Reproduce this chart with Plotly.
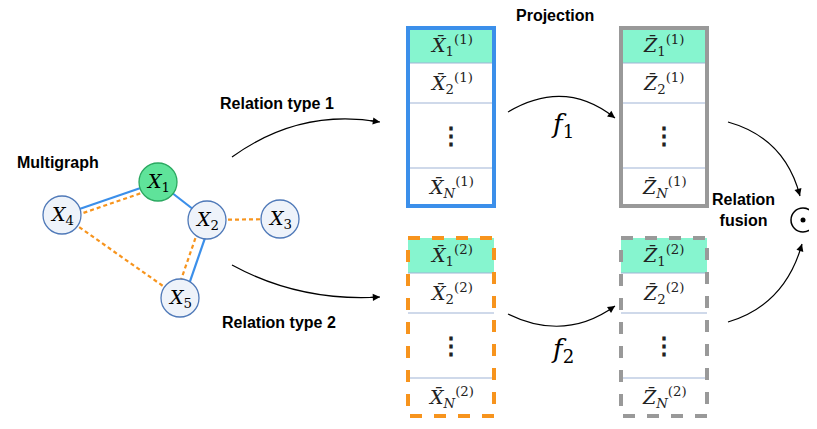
import plotly.graph_objects as go

W, H = 817, 429
PAD = 8  # the page body has an 8px margin

# graph nodes
node_names = ["1", "2", "3", "4", "5"]
node_x = [158, 207, 280, 62, 180]
node_y = [182, 220, 219, 215, 298]
solid_edges = [("4", "1", 0), ("1", "2", 0), ("2", "5", -4)]
dashed_edges = [("4", "1", 5), ("4", "5", 0), ("2", "5", 5), ("2", "3", 0)]

# embedding tables
table_x = [408, 621, 408, 621]
table_top = [28, 28, 238, 238]
table_letters = ["X", "Z", "X", "Z"]
table_types = ["1", "1", "2", "2"]
table_border = ["#3b8fea", "#999999", "#f7941d", "#999999"]
table_dash = ["solid", "solid", "dash", "dash"]
row_heights = [35, 40, 65, 38]
row_subs = ["1", "2", None, "N"]

fig = go.Figure()
shapes, annos = [], []
pos = dict(zip(node_names, zip(node_x, node_y)))


def edge(a, b, off, color, dash):
    (x0, y0), (x1, y1) = pos[a], pos[b]
    dx, dy = x1 - x0, y1 - y0
    n = (dx * dx + dy * dy) ** 0.5
    px, py = -dy / n * off, dx / n * off
    shapes.append(dict(type="line", x0=x0 + px, y0=y0 + py, x1=x1 + px, y1=y1 + py,
                       line=dict(color=color, width=2.2, dash=dash), layer="below"))


for a, b, o in solid_edges:
    edge(a, b, o, "#3b8fea", "solid")
for a, b, o in dashed_edges:
    edge(a, b, o, "#f7941d", "4px,3px")

for nm, x, y in zip(node_names, node_x, node_y):
    green = nm == "1"
    shapes.append(dict(type="circle", x0=x - 19, x1=x + 19, y0=y - 19, y1=y + 19,
                       fillcolor="#5fe39a" if green else "#eef3fa",
                       line=dict(color="#2aa860" if green else "#4f79b8", width=1.3)))
    annos.append(dict(x=x, y=y, text=f"<i>X</i><sub>{nm}</sub>", showarrow=False,
                      font=dict(family="DejaVu Serif", size=19, color="black")))

for tx, tt, let, typ, bc, dsh in zip(table_x, table_top, table_letters, table_types,
                                     table_border, table_dash):
    y = tt
    for i, (h, s) in enumerate(zip(row_heights, row_subs)):
        if i == 0:
            shapes.append(dict(type="rect", x0=tx, x1=tx + 86, y0=y, y1=y + h,
                               fillcolor="#86f5cf", line=dict(width=0)))
        if i > 0:
            shapes.append(dict(type="line", x0=tx, x1=tx + 86, y0=y, y1=y,
                               line=dict(color="#9fb3d6", width=1.2)))
        if s is None:
            txt = "<b>⋮</b>"
            fs = 24
        else:
            sub = f"<i>{s}</i>" if s == "N" else s
            txt = f"<i>{let}\u0304</i><sub>{sub}</sub><sup>({typ})</sup>"
            fs = 19
        annos.append(dict(x=tx + 43, y=y + h / 2, text=txt, showarrow=False,
                          font=dict(family="DejaVu Serif", size=fs, color="#222")))
        y += h
    shapes.append(dict(type="rect", x0=tx, x1=tx + 86, y0=tt, y1=y,
                       line=dict(color=bc, width=4, dash=dsh)))

# curved arrows
curves = [((232, 157), (300, 108), (380, 122)),
          ((232, 265), (300, 302), (380, 297)),
          ((508, 112), (565, 78), (615, 118)),
          ((508, 314), (565, 342), (615, 306)),
          ((728, 122), (785, 138), (800, 196)),
          ((728, 322), (785, 305), (802, 244))]
for (x0, y0), (cx, cy), (x1, y1) in curves:
    shapes.append(dict(type="path", path=f"M{x0},{y0} Q{cx},{cy} {x1},{y1}",
                       line=dict(color="black", width=1.2)))
    t = 0.93
    bx = (1 - t) ** 2 * x0 + 2 * (1 - t) * t * cx + t * t * x1
    by = (1 - t) ** 2 * y0 + 2 * (1 - t) * t * cy + t * t * y1
    annos.append(dict(x=x1, y=y1, ax=bx, ay=by, axref="x", ayref="y", xref="x", yref="y",
                      text="", showarrow=True, arrowhead=2, arrowsize=1.2,
                      arrowwidth=1.2, arrowcolor="black"))

shapes.append(dict(type="circle", x0=791, x1=815, y0=208, y1=232,
                   line=dict(color="black", width=1.5)))
shapes.append(dict(type="circle", x0=800.5, x1=805.5, y0=217.5, y1=222.5,
                   fillcolor="black", line=dict(width=0)))

labels = [("Projection", 555, 15), ("Multigraph", 58, 162),
          ("Relation type 1", 277, 103), ("Relation type 2", 279, 322),
          ("Relation<br>fusion", 743, 210)]
for t, x, y in labels:
    annos.append(dict(x=x, y=y, text=f"<b>{t}</b>", showarrow=False,
                      font=dict(family="Liberation Sans", size=16, color="black")))
annos.append(dict(x=562, y=125, text="<i>f</i><sub>1</sub>", showarrow=False,
                  font=dict(family="DejaVu Serif", size=26, color="black")))
annos.append(dict(x=562, y=350, text="<i>f</i><sub>2</sub>", showarrow=False,
                  font=dict(family="DejaVu Serif", size=26, color="black")))

fig.update_layout(width=W - 2 * PAD, height=H - 2 * PAD, margin=dict(l=0, r=0, t=0, b=0),
                  plot_bgcolor="white", paper_bgcolor="white",
                  xaxis=dict(range=[PAD, W - PAD], visible=False),
                  yaxis=dict(range=[H - PAD, PAD], visible=False),
                  shapes=shapes, annotations=annos, showlegend=False)
fig.write_html("out.html")
